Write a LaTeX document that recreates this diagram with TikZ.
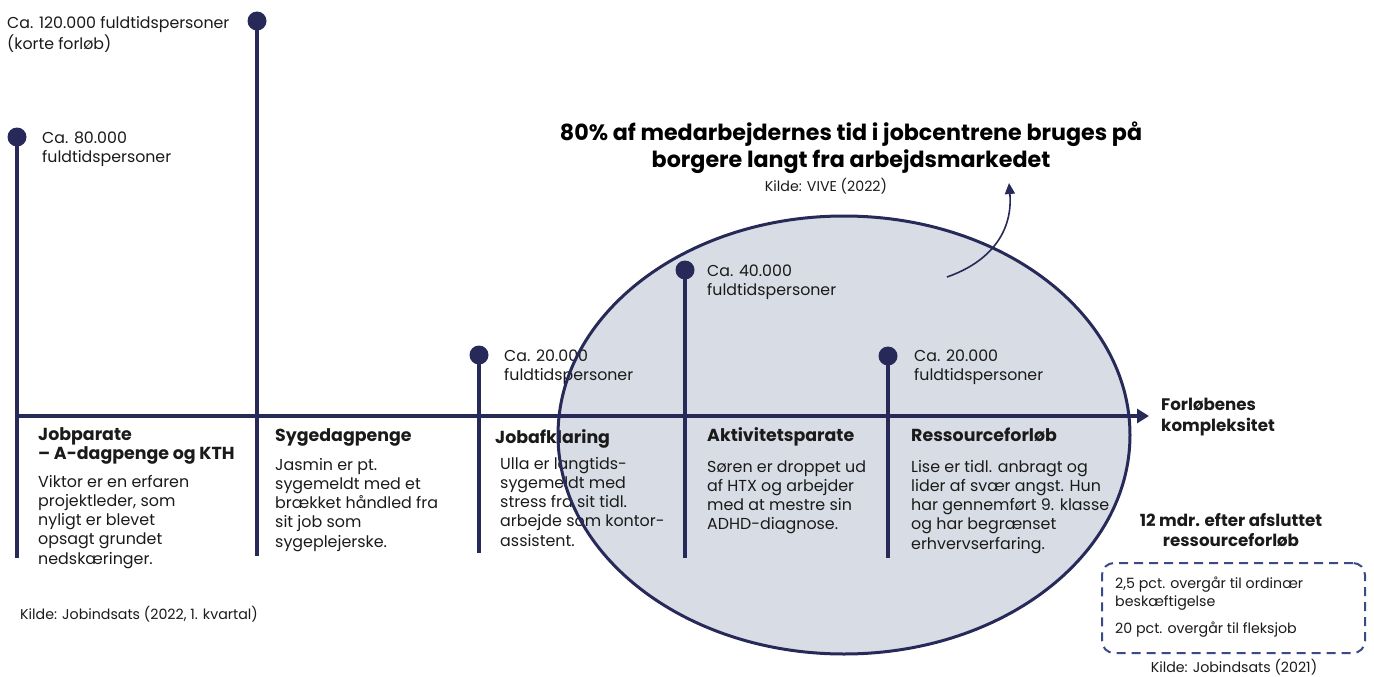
\documentclass[tikz,border=0pt]{standalone}
\usepackage{fontspec}
\setmainfont{Poppins}
\usetikzlibrary{arrows.meta}
\definecolor{navy}{HTML}{272A58}
\definecolor{ellfill}{HTML}{D8DCE4}
\definecolor{dashblue}{HTML}{3A4A85}
\definecolor{txt}{HTML}{1A1A1A}
\newcommand\mltext[2][l]{\begin{tabular}[t]{@{}#1@{}}#2\end{tabular}}
\tikzset{
  lbl/.style={anchor=base west, inner sep=0pt, text=txt, font=\fontsize{15.8}{19.5}\selectfont},
  head/.style={anchor=base west, inner sep=0pt, text=txt, font=\bfseries\fontsize{17.4}{19.5}\selectfont},
  body/.style={anchor=base west, inner sep=0pt, text=txt, font=\fontsize{15.9}{19.3}\selectfont},
  small/.style={anchor=base west, inner sep=0pt, text=txt, font=\fontsize{14.2}{18}\selectfont},
  stem/.style={navy, line width=4pt},
  dot/.style={circle, fill=navy, inner sep=0pt, minimum size=19pt},
}
\begin{document}
\begin{tikzpicture}[x=1pt,y=-1pt]
\useasboundingbox (0,0) rectangle (1374,677);
% ellipse fill
\fill[ellfill] (844,435) ellipse [x radius=286, y radius=219];
% axis
\coordinate (axS) at (15,416);
\coordinate (axE) at (1149,416);
\draw[navy, line width=4pt, -{Triangle[length=12pt,width=14pt]}] (axS) -- (axE);
% stems
\node[dot] (d1) at (17,137) {};
\coordinate (b1) at (17,558);
\draw[stem] (d1.center) -- (b1);
\node[dot] (d2) at (257,21) {};
\coordinate (b2) at (257,556);
\draw[stem] (d2.center) -- (b2);
\node[dot] (d3) at (479,355) {};
\coordinate (b3) at (479,553);
\draw[stem] (d3.center) -- (b3);
\node[dot] (d4) at (685,270) {};
\coordinate (b4) at (685,558);
\draw[stem] (d4.center) -- (b4);
\node[dot] (d5) at (888,356) {};
\coordinate (b5) at (888,558);
\draw[stem] (d5.center) -- (b5);
% count labels
\node[lbl] (c2) at (7,29) {\mltext{Ca. 120.000 fuldtidspersoner\\(korte forløb)}};
\node[lbl] (c1) at (42,143) {\mltext{Ca. 80.000\\fuldtidspersoner}};
\node[lbl] (c4) at (707,276) {\mltext{Ca. 40.000\\fuldtidspersoner}};
\node[lbl] (c3) at (504,361) {\mltext{Ca. 20.000\\fuldtidspersoner}};
\node[lbl] (c5) at (914,361) {\mltext{Ca. 20.000\\fuldtidspersoner}};
% headings
\node[head] (h1) at (38,440) {\mltext{Jobparate\\– A-dagpenge og KTH}};
\node[head] (h2) at (275,441) {Sygedagpenge};
\node[head] (h3) at (495,443) {Jobafklaring};
\node[head] (h4) at (707,441) {Aktivitetsparate};
\node[head] (h5) at (911,441) {Ressourceforløb};
% bodies
\node[body] (t1) at (38,487) {\mltext{Viktor er en erfaren\\projektleder, som\\nyligt er blevet\\opsagt grundet\\nedskæringer.}};
\node[body] (t2) at (275,470) {\mltext{Jasmin er pt.\\sygemeldt med et\\brækket håndled fra\\sit job som\\sygeplejerske.}};
\node[body] (t3) at (500,469) {\mltext{Ulla er langtids-\\sygemeldt med\\stress fra sit tidl.\\arbejde som kontor-\\assistent.}};
\node[body] (t4) at (707,472) {\mltext{Søren er droppet ud\\af HTX og arbejder\\med at mestre sin\\ADHD-diagnose.}};
\node[body] (t5) at (911,472) {\mltext{Lise er tidl. anbragt og\\lider af svær angst. Hun\\har gennemført 9. klasse\\og har begrænset\\erhvervserfaring.}};
% sources
\node[small] (k1) at (20,619) {Kilde: Jobindsats (2022, 1. kvartal)};
% title
\node[anchor=base, inner sep=0pt, text=black, font=\bfseries\fontsize{22.2}{27}\selectfont] (title) at (851,140) {\mltext[c]{80\% af medarbejdernes tid i jobcentrene bruges på\\borgere langt fra arbejdsmarkedet}};
\node[small, anchor=base] (k2) at (826,191) {Kilde: VIVE (2022)};
% axis label
\node[head, font=\bfseries\fontsize{16.7}{21}\selectfont] (axl) at (1161,410) {\mltext{Forløbenes\\kompleksitet}};
% after box
\node[anchor=base, inner sep=0pt, text=txt, font=\bfseries\fontsize{16.7}{20}\selectfont] (after) at (1231,526) {\mltext[c]{12 mdr. efter afsluttet\\ressourceforløb}};
\node[draw=dashblue, line width=2pt, dash pattern=on 9pt off 6pt, rounded corners=12pt, minimum width=263pt, minimum height=90pt, anchor=north west, inner sep=0pt] (box) at (1101,562) {};
\node[small] (bx1) at (1115,588) {\mltext{2,5 pct. overgår til ordinær\\beskæftigelse}};
\node[small] (bx2) at (1115,633) {20 pct. overgår til fleksjob};
\node[small, anchor=base] (k3) at (1234,672) {Kilde: Jobindsats (2021)};
% ellipse border on top
\draw[navy, line width=3pt] (844,435) ellipse [x radius=286, y radius=219];
% curved arrow
\coordinate (arS) at (947,277);
\coordinate (arE) at (1009,183);
\draw[navy, line width=1.6pt, -{Triangle[length=11pt,width=10pt]}] (arS) .. controls (990,262) and (1013,232) .. (arE);
\end{tikzpicture}
\end{document}
